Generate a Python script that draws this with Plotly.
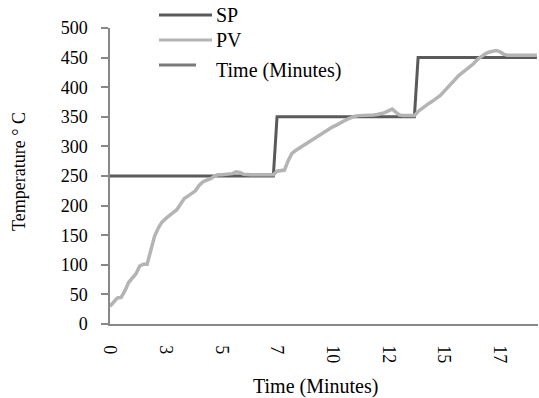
import plotly.graph_objects as go

# ---- data ----
tick_labels = ["0", "3", "5", "7", "10", "12", "15", "17"]
samples_per_label = 15

sp = [250] * 45 + [350] * 38 + [450] * 33

pv = [30, 36, 44, 45, 56, 70, 77, 85, 98, 101,
      101, 125, 148, 162, 172, 178, 184, 188, 193, 203,
      212, 216, 220, 225, 234, 240, 243, 245, 249, 252,
      252, 253, 253, 254, 257, 256, 253, 252, 252, 252,
      252, 252, 252, 252, 252, 258, 259, 260, 276, 288,
      293, 297, 301, 305, 309, 313, 317, 322, 326, 330,
      333, 336, 340, 343, 346, 349, 351, 352, 352, 352,
      352, 353, 354, 355, 357, 360, 363, 358, 353, 352,
      352, 352, 352, 359, 364, 369, 373, 377, 382, 386,
      393, 400, 407, 414, 420, 425, 430, 434, 440, 447,
      452, 456, 459, 461, 462, 460, 456, 454, 454, 454,
      454, 454, 454, 454, 454, 454]

idx = list(range(len(pv)))
tickvals = [i * samples_per_label for i in range(len(tick_labels))]

SP_COLOR = "#5a5a5a"
PV_COLOR = "#b4b4b4"
T_COLOR = "#7a7a7a"
FONT = "Liberation Serif"

W, H = 539, 398
L, R, T, B = 110, 1, 28, 74
pw, ph = W - L - R, H - T - B


def px(x):
    return (x - L) / pw


def py(y):
    return 1 - (y - T) / ph


fig = go.Figure()
fig.add_trace(go.Scatter(x=idx, y=sp, mode="lines", name="SP",
                         line=dict(color=SP_COLOR, width=3)))
fig.add_trace(go.Scatter(x=idx, y=pv, mode="lines", name="PV",
                         line=dict(color=PV_COLOR, width=3.5)))

# manual legend
legend_items = [("SP", SP_COLOR, 159, 212, 15, 15),
                ("PV", PV_COLOR, 159, 212, 40, 40),
                ("Time (Minutes)", T_COLOR, 159, 196, 65, 70)]
shapes = []
annotations = []
for name, col, x0, x1, yl, yt in legend_items:
    shapes.append(dict(type="line", xref="paper", yref="paper",
                       x0=px(x0), x1=px(x1), y0=py(yl), y1=py(yl),
                       line=dict(color=col, width=3)))
    annotations.append(dict(text=name, xref="paper", yref="paper",
                            x=px(214), y=py(yt), xanchor="left", yanchor="middle",
                            showarrow=False, font=dict(family=FONT, size=20, color="#000")))

annotations.append(dict(text="Temperature ° C", xref="paper", yref="paper",
                        x=px(19), y=py(172), xanchor="center", yanchor="middle",
                        textangle=-90, showarrow=False,
                        font=dict(family=FONT, size=18, color="#000")))
annotations.append(dict(text="Time (Minutes)", xref="paper", yref="paper",
                        x=px(315), y=py(386), xanchor="center", yanchor="middle",
                        showarrow=False,
                        font=dict(family=FONT, size=20, color="#000")))

fig.update_layout(
    width=W, height=H,
    margin=dict(l=L, r=R, t=T, b=B),
    paper_bgcolor="white", plot_bgcolor="white",
    showlegend=False,
    shapes=shapes, annotations=annotations,
    xaxis=dict(range=[0, 115.3], tickvals=tickvals, ticktext=tick_labels,
               tickangle=90, showgrid=False, zeroline=False,
               showline=True, linecolor="#888888", linewidth=1.5,
               ticks="", ticklabelstandoff=16,
               tickfont=dict(family=FONT, size=18, color="#000")),
    yaxis=dict(range=[0, 500], dtick=50, showgrid=False, zeroline=False,
               showline=True, linecolor="#888888", linewidth=1.5,
               ticks="outside", ticklen=7, tickcolor="#888888", tickwidth=1.5,
               ticklabelstandoff=10,
               tickfont=dict(family=FONT, size=18, color="#000")),
)

fig.write_html("out.html")
